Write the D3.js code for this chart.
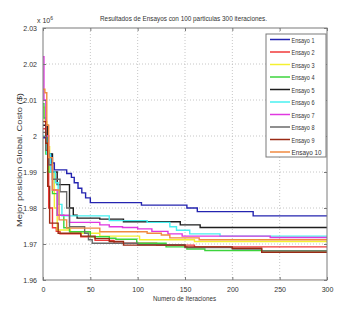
<!DOCTYPE html>
<html><head><meta charset="utf-8">
<script src="https://cdn.jsdelivr.net/npm/d3@7"></script>
<style>body{margin:0;background:#fff}svg{display:block}</style>
</head><body><svg id="c" width="342" height="310"></svg>
<script>
const title = "Resultados de Ensayos con 100 particulas 300 iteraciones.";
const xLabel = "Numero de Iteraciones";
const yLabel = "Mejor posicion Global. Costo ($)";
const xTicks = [0, 50, 100, 150, 200, 250, 300];
const yTicks = [1.96, 1.97, 1.98, 1.99, 2.00, 2.01, 2.02, 2.03];
const yTickLabels = ["1.96", "1.97", "1.98", "1.99", "2", "2.01", "2.02", "2.03"];
const seriesNames = ["Ensayo 1","Ensayo 2","Ensayo 3","Ensayo 4","Ensayo 5","Ensayo 6","Ensayo 7","Ensayo 8","Ensayo 9","Ensayo 10"];
const seriesColors = ["#2424b0","#f03a3a","#f4f030","#3cd43c","#1e1e1e","#48f0f0","#e038e0","#6a6a6a","#9a2a14","#f08a40"];
// step data (iteration, best value x10^6)
const ensayo1 = [[0,1.9995],[5,1.9950],[9,1.9925],[12,1.9906],[25,1.9896],[30,1.9885],[33,1.9870],[37,1.9855],[41,1.9842],[45,1.9828],[50,1.9815],[104,1.9808],[152,1.9800],[163,1.9790],[222,1.9778],[300,1.9778]];
const ensayo2 = [[0,2.0020],[3,1.9960],[5,1.9900],[6,1.9800],[10,1.9745],[14,1.9735],[18,1.9728],[40,1.9720],[55,1.9710],[75,1.9702],[120,1.9697],[160,1.9692],[300,1.9692]];
const ensayo3 = [[0,2.0080],[2,2.0040],[4,1.9970],[7,1.9900],[12,1.9800],[15,1.9739],[29,1.9730],[60,1.9722],[102,1.9712],[160,1.9707],[300,1.9707]];
const ensayo4 = [[0,2.0090],[1,2.0050],[3,1.9950],[6,1.9900],[10,1.9840],[15,1.9780],[22,1.9745],[28,1.9734],[50,1.9720],[70,1.9716],[77,1.9713],[99,1.9702],[130,1.9692],[152,1.9686],[171,1.9682],[231,1.9681],[300,1.9681]];
const ensayo5 = [[0,2.0030],[5,1.9950],[10,1.9900],[15,1.9865],[28,1.9800],[32,1.9780],[36,1.9772],[60,1.9769],[85,1.9762],[145,1.9753],[166,1.9746],[300,1.9746]];
const ensayo6 = [[0,2.0000],[4,1.9950],[8,1.9900],[13,1.9870],[16,1.9810],[20,1.9778],[70,1.9765],[110,1.9760],[134,1.9748],[141,1.9738],[155,1.9728],[187,1.9722],[300,1.9722]];
const ensayo7 = [[0,2.0220],[1,2.0100],[3,2.0000],[6,1.9920],[10,1.9850],[15,1.9780],[28,1.9760],[60,1.9753],[70,1.9748],[84,1.9746],[100,1.9742],[115,1.9735],[132,1.9728],[147,1.9722],[240,1.9718],[300,1.9718]];
const ensayo8 = [[0,2.0010],[3,1.9960],[6,1.9920],[10,1.9880],[18,1.9845],[25,1.9800],[28,1.9748],[44,1.9730],[48,1.9712],[52,1.9702],[100,1.9698],[150,1.9690],[200,1.9686],[231,1.9681],[300,1.9681]];
const ensayo9 = [[0,2.0040],[3,1.9980],[5,1.9860],[7,1.9758],[16,1.9730],[40,1.9722],[55,1.9715],[70,1.9707],[85,1.9697],[150,1.9692],[200,1.9688],[231,1.9677],[300,1.9677]];
const ensayo10 = [[0,2.0130],[2,2.0120],[4,2.0030],[6,1.9940],[10,1.9850],[17,1.9767],[25,1.9744],[60,1.9734],[110,1.9730],[125,1.9725],[134,1.9717],[165,1.9712],[300,1.9712]];
const allSeries = [ensayo1,ensayo2,ensayo3,ensayo4,ensayo5,ensayo6,ensayo7,ensayo8,ensayo9,ensayo10];

const svg = d3.select("#c");
const L = 43, R = 327, T = 28, B = 280;
const x = d3.scaleLinear().domain([0,300]).range([L,R]);
const y = d3.scaleLinear().domain([1.96,2.03]).range([B,T]);
const font = "'Liberation Sans',Arial,sans-serif";
const numW = s => [...s].reduce((a,c)=>a+(c==="."?2:3.9),0);

// grid
const g = svg.append("g");
g.selectAll(".gx").data(xTicks.slice(1,-1)).join("line")
 .attr("x1",d=>x(d)).attr("x2",d=>x(d)).attr("y1",T).attr("y2",B)
 .attr("stroke","#b8b8b8").attr("stroke-width",0.8).attr("stroke-dasharray","1,2");
g.selectAll(".gy").data(yTicks.slice(1,-1)).join("line")
 .attr("y1",d=>y(d)).attr("y2",d=>y(d)).attr("x1",L).attr("x2",R)
 .attr("stroke","#b8b8b8").attr("stroke-width",0.8).attr("stroke-dasharray","1,2");

// lines
const line = d3.line().x(d=>x(d[0])).y(d=>y(d[1])).curve(d3.curveStepAfter);
svg.append("g").selectAll("path").data(allSeries).join("path")
 .attr("d",line).attr("fill","none")
 .attr("stroke",(d,i)=>seriesColors[i]).attr("stroke-width",1.4);

// frame
svg.append("rect").attr("x",L).attr("y",T).attr("width",R-L).attr("height",B-T)
 .attr("fill","none").attr("stroke","#7a7a7a").attr("stroke-width",1);

// axes
const xa = svg.append("g").attr("transform",`translate(0,${B})`)
 .call(d3.axisBottom(x).tickValues(xTicks).tickSize(-3).tickPadding(6));
const ya = svg.append("g").attr("transform",`translate(${L},0)`)
 .call(d3.axisLeft(y).tickValues(yTicks).tickFormat((d,i)=>yTickLabels[i]).tickSize(-3).tickPadding(6));
const ya2 = svg.append("g").attr("transform",`translate(${R},0)`)
 .call(d3.axisRight(y).tickValues(yTicks).tickSize(-3).tickFormat(""));
const xa2 = svg.append("g").attr("transform",`translate(0,${T})`)
 .call(d3.axisTop(x).tickValues(xTicks).tickSize(-3).tickFormat(""));
[xa,ya,ya2,xa2].forEach(a=>{a.select(".domain").remove();a.selectAll("line").attr("stroke","#7a7a7a");
 a.selectAll("text").attr("font-family",font).attr("font-size",8).attr("fill","#333")
  .each(function(){const t=d3.select(this).text(); if(t) d3.select(this).attr("textLength",numW(t)).attr("lengthAdjust","spacingAndGlyphs");});});

// title and labels
svg.append("text").attr("x",183.5).attr("y",21).attr("text-anchor","middle")
 .attr("font-family",font).attr("font-size",8).attr("fill","#333")
 .attr("textLength",167).attr("lengthAdjust","spacingAndGlyphs").text(title);
const e = svg.append("text").attr("x",37).attr("y",23).attr("font-family",font).attr("font-size",7).attr("fill","#333");
e.append("tspan").text("x 10");
e.append("tspan").attr("dy",-3).attr("font-size",5).text("6");
svg.append("text").attr("x",184.5).attr("y",301).attr("text-anchor","middle")
 .attr("font-family",font).attr("font-size",7.5).attr("fill","#333")
 .attr("textLength",63).attr("lengthAdjust","spacingAndGlyphs").text(xLabel);
svg.append("text").attr("transform","translate(22,160) rotate(-90)").attr("text-anchor","middle")
 .attr("font-family",font).attr("font-size",7.5).attr("fill","#333")
 .attr("textLength",134).attr("lengthAdjust","spacingAndGlyphs").text(yLabel);

// legend
const lg = svg.append("g");
lg.append("rect").attr("x",266).attr("y",34).attr("width",60).attr("height",123)
 .attr("fill","#fff").attr("stroke","#7a7a7a").attr("stroke-width",1);
const items = lg.selectAll("g.it").data(seriesNames).join("g")
 .attr("transform",(d,i)=>`translate(0,${39.5+i*12.5})`);
items.append("line").attr("x1",270).attr("x2",290).attr("stroke",(d,i)=>seriesColors[i]).attr("stroke-width",1.5);
items.append("text").attr("x",291.5).attr("y",3).attr("font-family",font).attr("font-size",8).attr("fill","#333")
 .attr("textLength",d=>d.length>8?30:23).attr("lengthAdjust","spacingAndGlyphs").text(d=>d);
</script></body></html>
